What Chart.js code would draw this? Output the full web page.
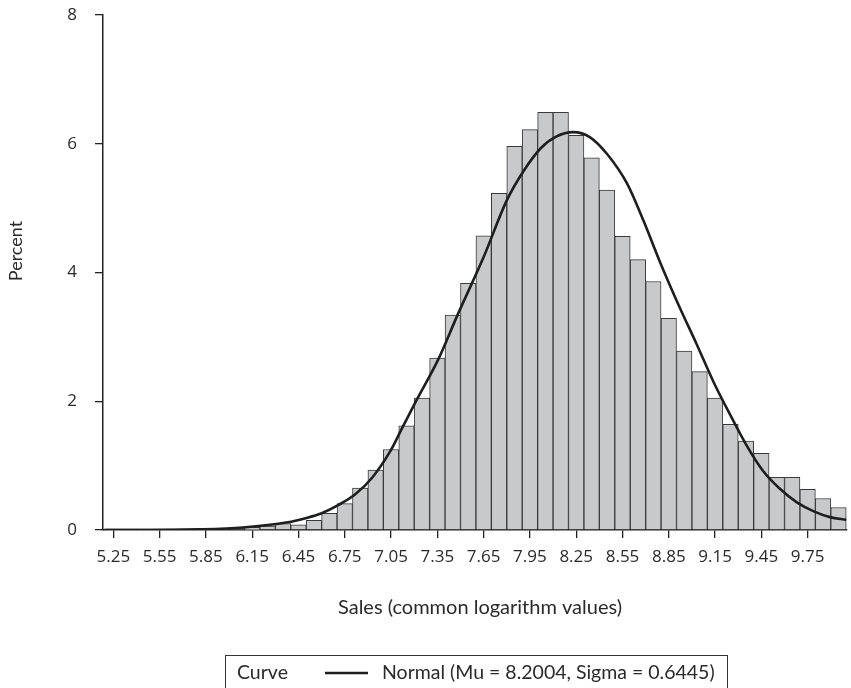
<!DOCTYPE html>
<html>
<head>
<meta charset="utf-8">
<script src="https://cdn.jsdelivr.net/npm/chart.js@4.4.1/dist/chart.umd.min.js"></script>
<style>
html,body{margin:0;padding:0;background:#ffffff;}
#wrap{width:851px;height:688px;position:relative;overflow:hidden;}
canvas{display:block;}
</style>
</head>
<body>
<div id="wrap"><canvas id="c" width="851" height="688"></canvas></div>
<script>
// ---- Data ----
const binMidpoints = [5.25,5.35,5.45,5.55,5.65,5.75,5.85,5.95,6.05,6.15,6.25,6.35,6.45,6.55,6.65,6.75,6.85,6.95,
  7.05,7.15,7.25,7.35,7.45,7.55,7.65,7.75,7.85,7.95,8.05,8.15,8.25,8.35,8.45,8.55,8.65,8.75,8.85,8.95,
  9.05,9.15,9.25,9.35,9.45,9.55,9.65,9.75,9.85,9.95];
const binPercents = [0.02,0.02,0.02,0.02,0.02,0.02,0.02,0.02,0.03,0.04,0.06,0.10,0.08,0.15,0.26,0.41,0.65,0.93,
  1.25,1.62,2.05,2.67,3.34,3.83,4.57,5.23,5.96,6.22,6.49,6.49,6.13,5.78,5.28,4.56,4.20,3.86,3.29,2.78,
  2.46,2.05,1.64,1.38,1.19,0.82,0.82,0.63,0.49,0.35];
const curveX = [5.19,5.50,5.80,6.09,6.38,6.49,6.60,6.71,6.82,6.93,7.044,7.119,7.216,7.356,7.479,7.65,7.80,7.91,8.02,8.12,
  8.23,8.34,8.45,8.58,8.685,8.79,8.92,9.03,9.14,9.25,9.355,9.46,9.57,9.68,9.79,9.895,10.00];
const curveY = [0.00,0.00,0.01,0.04,0.12,0.18,0.26,0.39,0.56,0.82,1.22,1.57,2.02,2.65,3.33,4.24,5.12,5.58,5.93,6.11,
  6.18,6.10,5.84,5.38,4.81,4.18,3.46,2.89,2.30,1.78,1.31,0.92,0.64,0.43,0.29,0.20,0.16];
const xTickValues = [5.25,5.55,5.85,6.15,6.45,6.75,7.05,7.35,7.65,7.95,8.25,8.55,8.85,9.15,9.45,9.75];
const xTickLabels = ['5.25','5.55','5.85','6.15','6.45','6.75','7.05','7.35','7.65','7.95','8.25','8.55','8.85','9.15','9.45','9.75'];
const yTickValues = [0,2,4,6,8];
const yTickLabels = ['0','2','4','6','8'];
const xTitle = 'Sales (common logarithm values)';
const yTitle = 'Percent';
const legendHeader = 'Curve';
const legendLabel = 'Normal (Mu = 8.2004, Sigma = 0.6445)';

const barData = binMidpoints.map((x, i) => ({x: x, y: binPercents[i]}));
const curveData = curveX.map((x, i) => ({x: x, y: curveY[i]}));

const TEXT = '#2a2a2a';
const AXIS = '#222222';

const decor = {
  id: 'decor',
  afterDraw(chart) {
    const ctx = chart.ctx;
    const area = chart.chartArea;
    ctx.save();
    ctx.fillStyle = TEXT;
    ctx.font = '20px Lato, "Open Sans", sans-serif';
    ctx.textAlign = 'center';
    ctx.textBaseline = 'middle';
    ctx.fillText(xTitle, (area.left + area.right) / 2 + 5, 608);
    ctx.save();
    ctx.translate(16, 251);
    ctx.rotate(-Math.PI / 2);
    ctx.font = '18px Lato, "Open Sans", sans-serif';
    ctx.fillText(yTitle, 0, 0);
    ctx.restore();
    // legend box
    ctx.strokeStyle = '#333';
    ctx.lineWidth = 1;
    ctx.strokeRect(225.5, 655.5, 502, 60);
    ctx.font = '19.5px Lato, "Open Sans", sans-serif';
    ctx.textAlign = 'left';
    ctx.textBaseline = 'alphabetic';
    ctx.fillText(legendHeader, 237, 679);
    ctx.beginPath();
    ctx.moveTo(325, 673);
    ctx.lineTo(368, 673);
    ctx.lineWidth = 2.5;
    ctx.strokeStyle = '#1e1e1e';
    ctx.stroke();
    ctx.fillText(legendLabel, 382, 679);
    ctx.restore();
  }
};

function build() {
  new Chart(document.getElementById('c'), {
    type: 'bar',
    data: {
      datasets: [
        {
          type: 'line',
          data: curveData,
          borderColor: '#1e1e1e',
          borderWidth: 2.6,
          pointRadius: 0,
          fill: false,
          cubicInterpolationMode: 'monotone',
          order: 0
        },
        {
          type: 'bar',
          data: barData,
          backgroundColor: '#c8c9cb',
          borderColor: '#3a3a3a',
          borderWidth: 1,
          barPercentage: 1.0,
          categoryPercentage: 1.0,
          order: 1
        }
      ]
    },
    options: {
      responsive: false,
      animation: false,
      devicePixelRatio: 1,
      layout: { padding: { top: 15, right: 4, left: 0, bottom: 0 } },
      plugins: { legend: { display: false }, tooltip: { enabled: false } },
      scales: {
        x: {
          type: 'linear',
          min: 5.183,
          max: 10.005,
          offset: false,
          grid: { drawOnChartArea: false, drawTicks: true, tickLength: 8, color: AXIS, lineWidth: 1.3, offset: false },
          border: { display: true, color: AXIS, width: 1.5 },
          afterBuildTicks: (s) => { s.ticks = xTickValues.map(v => ({ value: v })); },
          afterFit: (s) => { s.height = 158; s.paddingLeft = 0; s.paddingRight = 0; },
          ticks: {
            autoSkip: false,
            maxRotation: 0,
            padding: 9,
            color: TEXT,
            font: { family: '"Open Sans", sans-serif', size: 17 },
            callback: (v, i) => xTickLabels[i]
          }
        },
        y: {
          min: 0,
          max: 8,
          grid: { drawOnChartArea: false, drawTicks: true, tickLength: 8, color: AXIS, lineWidth: 1.3 },
          border: { display: true, color: AXIS, width: 1.5 },
          afterBuildTicks: (s) => { s.ticks = yTickValues.map(v => ({ value: v })); },
          afterFit: (s) => { s.width = 103; s.paddingTop = 0; s.paddingBottom = 0; },
          ticks: {
            padding: 18,
            color: TEXT,
            font: { family: '"Open Sans", sans-serif', size: 17 },
            callback: (v, i) => yTickLabels[i]
          }
        }
      }
    },
    plugins: [decor]
  });
}

if (document.fonts && document.fonts.load) {
  Promise.all([
    document.fonts.load('17px Lato'),
    document.fonts.load('20px Lato'),
    document.fonts.load('17px "Open Sans"')
  ]).then(build, build);
} else {
  build();
}
</script>
</body>
</html>
